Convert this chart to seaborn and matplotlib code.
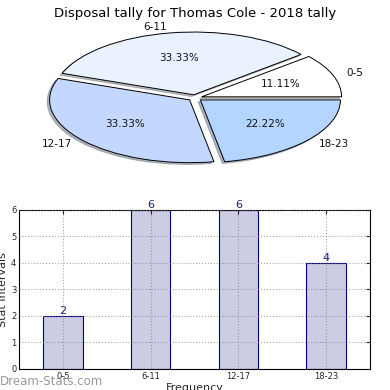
import numpy as np
import pandas as pd
import matplotlib
matplotlib.use('Agg')
import matplotlib.pyplot as plt
import seaborn as sns

# Data
categories = ['0-5', '6-11', '12-17', '18-23']
counts = [2, 6, 6, 4]
pie_colors = ['#ffffff', '#eaf1ff', '#c4d8ff', '#b3d5ff']
explode = [0.05, 0.05, 0.05, 0.05]

data = pd.DataFrame({'Frequency': categories, 'Count': counts})

sns.set_style('white')
plt.rcParams['font.family'] = ['DejaVu Sans']

fig = plt.figure(figsize=(3.9, 3.9), dpi=100)

# Pie (squashed, not equal aspect)
ax1 = fig.add_axes([0.105, 0.572, 0.79, 0.354])
ax1.pie(data['Count'], labels=data['Frequency'], colors=pie_colors, explode=explode,
        autopct='%.2f%%', startangle=0,
        shadow={'ox': -0.012, 'oy': -0.02, 'shade': 0.5},
        wedgeprops=dict(edgecolor='black', linewidth=0.7),
        textprops=dict(fontsize=7.5, color='#111111'))
ax1.set_aspect('auto')
ax1.set_xlim(-1.1, 1.1)
ax1.set_ylim(-1.1, 1.1)
fig.text(0.5, 0.965, 'Disposal tally for Thomas Cole - 2018 tally', ha='center', va='center',
         fontsize=9.5, color='black')

# Bars
ax2 = fig.add_axes([0.049, 0.054, 0.9, 0.408])
sns.barplot(data=data, x='Frequency', y='Count', color='#ccccE5', edgecolor='navy',
            linewidth=0.8, width=0.45, saturation=1, ax=ax2)
ax2.set_xlim(-0.5, 3.5)
ax2.set_ylim(0, 6)
ax2.set_yticks(range(0, 7))
ax2.grid(True, color='gray', linestyle=':', linewidth=0.8, alpha=0.7)
ax2.set_axisbelow(False)
for s in ax2.spines.values():
    s.set_color('black')
    s.set_linewidth(0.8)
ax2.tick_params(direction='in', top=True, right=True, labelsize=6, length=3, pad=2)
ax2.set_xlabel('Frequency', fontsize=8, labelpad=2)
ax2.set_ylabel('Stat Intervals', fontsize=8, labelpad=2)

for i, v in enumerate(counts):
    ax2.text(i, v, str(v), ha='center', va='bottom', fontsize=8, color='#1a1a80')

fig.text(0.0, 0.022, 'Dream-Stats.com', fontsize=8.5, color='gray', alpha=0.8, va='center')

fig.savefig('out.png', dpi=100)
